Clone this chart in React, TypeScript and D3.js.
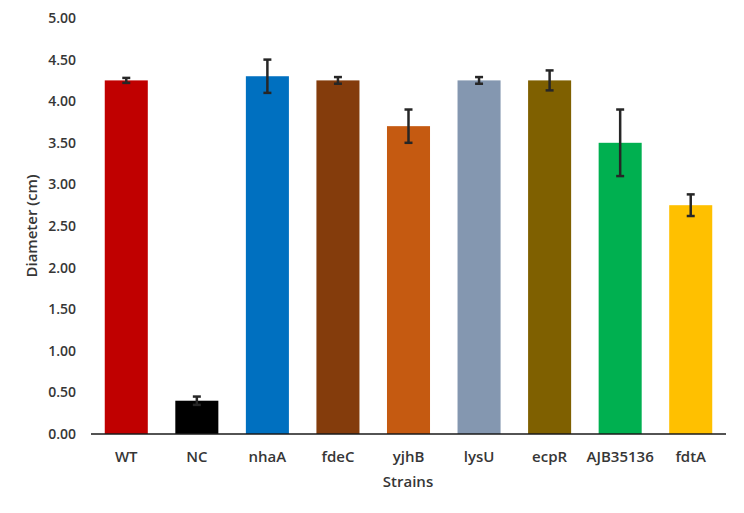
import React, { useEffect, useRef } from 'react';
import * as d3 from 'd3';

const strains = ['WT', 'NC', 'nhaA', 'fdeC', 'yjhB', 'lysU', 'ecpR', 'AJB35136', 'fdtA'];
const diameters = [4.25, 0.4, 4.3, 4.25, 3.7, 4.25, 4.25, 3.5, 2.75];
const errors = [0.03, 0.05, 0.2, 0.04, 0.2, 0.04, 0.12, 0.4, 0.13];
const barColors = ['#C00000', '#000000', '#0070C0', '#843C0C', '#C55A11', '#8497B0', '#7F6000', '#00B050', '#FFC000'];
const yTicks = [0, 0.5, 1, 1.5, 2, 2.5, 3, 3.5, 4, 4.5, 5];

const FONT = '"Open Sans", sans-serif';
const TEXT = '#363636';

const App = () => {
    const chartRef = useRef<SVGSVGElement>(null);

    useEffect(() => {
        const svg = d3.select(chartRef.current);
        svg.selectAll('*').remove();

        const data = strains.map((s, i) => ({ name: s, value: diameters[i], err: errors[i], color: barColors[i] }));

        const x = d3.scaleBand()
            .domain(strains)
            .range([91, 726])
            .paddingInner(0.39)
            .paddingOuter(0.195);

        const y = d3.scaleLinear()
            .domain([0, 5])
            .range([434, 18]);

        // y tick labels (no axis line, no gridlines)
        svg.append('g')
            .selectAll('text')
            .data(yTicks)
            .enter()
            .append('text')
            .attr('x', 76)
            .attr('y', d => y(d))
            .attr('dy', '0.35em')
            .attr('text-anchor', 'end')
            .attr('font-family', FONT)
            .attr('font-weight', 600)
            .attr('font-size', 14)
            .attr('fill', TEXT)
            .text(d => d.toFixed(2));

        // bars
        svg.append('g')
            .selectAll('rect')
            .data(data)
            .enter()
            .append('rect')
            .attr('x', d => x(d.name)!)
            .attr('y', d => y(d.value))
            .attr('width', x.bandwidth())
            .attr('height', d => y(0) - y(d.value))
            .attr('fill', d => d.color);

        // error bars
        const eb = svg.append('g')
            .attr('stroke', '#262626')
            .attr('stroke-width', 2.5);
        data.forEach(d => {
            const cx = x(d.name)! + x.bandwidth() / 2;
            eb.append('line')
                .attr('x1', cx).attr('x2', cx)
                .attr('y1', y(d.value - d.err)).attr('y2', y(d.value + d.err));
            [d.value - d.err, d.value + d.err].forEach(v => {
                eb.append('line')
                    .attr('x1', cx - 4).attr('x2', cx + 4)
                    .attr('y1', y(v)).attr('y2', y(v));
            });
        });

        // x axis line
        svg.append('line')
            .attr('x1', 91).attr('x2', 726)
            .attr('y1', y(0)).attr('y2', y(0))
            .attr('stroke', '#1a1a1a')
            .attr('stroke-width', 1.5);

        // category labels
        svg.append('g')
            .selectAll('text')
            .data(strains)
            .enter()
            .append('text')
            .attr('x', d => x(d)! + x.bandwidth() / 2)
            .attr('y', 457)
            .attr('dy', '0.35em')
            .attr('text-anchor', 'middle')
            .attr('font-family', FONT)
            .attr('font-weight', 600)
            .attr('font-size', 15)
            .attr('fill', TEXT)
            .text(d => d);

        // axis titles
        svg.append('text')
            .attr('x', 408)
            .attr('y', 482)
            .attr('dy', '0.35em')
            .attr('text-anchor', 'middle')
            .attr('font-family', FONT)
            .attr('font-weight', 600)
            .attr('font-size', 15)
            .attr('fill', TEXT)
            .text('Strains');

        svg.append('text')
            .attr('transform', 'translate(32,226) rotate(-90)')
            .attr('dy', '0.35em')
            .attr('text-anchor', 'middle')
            .attr('font-family', FONT)
            .attr('font-weight', 600)
            .attr('font-size', 15)
            .attr('fill', TEXT)
            .text('Diameter (cm)');
    }, []);

    return (
        <svg
            ref={chartRef}
            width={744}
            height={513}
            style={{ position: 'absolute', left: 0, top: 0, background: '#fff' }}
        />
    );
};

export default App;
